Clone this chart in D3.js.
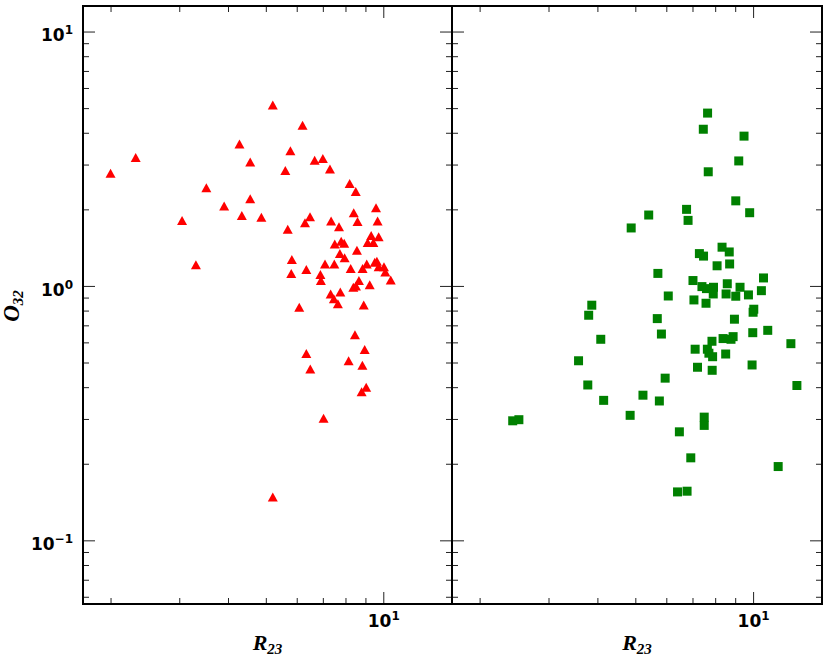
<!DOCTYPE html>
<html>
<head>
<meta charset="utf-8">
<script src="https://cdn.jsdelivr.net/npm/d3@7"></script>
<style>
  body { margin: 0; background: #fff; }
  .chart svg { display: block; }
</style>
</head>
<body>
<div class="chart"></div>
<script>
// left panel (triangles)
const r23Tri = [2.00, 2.32, 3.05, 3.31, 3.52, 3.91, 4.28, 4.34, 4.56, 4.56,
  4.87, 5.21, 5.61, 5.69, 5.78, 5.83, 5.81, 6.09, 6.21, 6.30,
  6.35, 6.49, 6.67, 6.90, 6.92, 7.00, 7.09, 7.30, 7.35, 7.33,
  7.49, 7.51, 7.47, 7.65, 7.70, 7.74, 7.76, 7.80, 7.94, 7.96,
  8.20, 8.25, 8.40, 8.38, 8.50, 8.56, 8.59, 8.51, 8.66, 8.85,
  8.91, 9.07, 9.12, 9.23, 9.31, 9.43, 9.51, 9.58, 9.67, 9.73,
  9.63, 9.73, 10.04, 10.12, 10.45, 8.46, 6.35, 8.96, 8.15, 8.84,
  6.50, 9.04, 8.80, 7.03, 5.21]
const o32Tri = [2.77, 3.20, 1.81, 1.21, 2.43, 2.06, 3.61, 1.89, 3.07, 2.20,
  1.86, 5.14, 2.84, 1.67, 3.40, 1.27, 1.12, 0.824, 4.28, 1.77,
  1.16, 1.87, 3.12, 1.11, 1.05, 3.17, 1.22, 2.88, 1.80, 0.930,
  1.22, 1.46, 0.891, 0.852, 1.71, 1.34, 0.947, 1.50, 1.47, 1.29,
  2.53, 1.17, 1.94, 0.988, 2.35, 1.38, 1.79, 1.00, 1.05, 1.17,
  0.842, 1.22, 1.48, 1.01, 1.58, 1.48, 1.24, 2.03, 1.80, 1.56,
  1.25, 1.19, 1.19, 1.135, 1.056, 0.643, 0.542, 0.562, 0.508, 0.488,
  0.472, 0.400, 0.384, 0.302, 0.148]

// right panel (squares)
const r23Sq = [7.65, 7.46, 9.48, 9.19, 7.68, 9.03, 6.76, 5.41, 9.80, 6.82,
  4.88, 8.33, 8.69, 7.29, 7.47, 8.71, 8.09, 5.71, 10.63, 7.02,
  8.59, 7.40, 7.60, 7.92, 9.26, 10.50, 7.91, 8.53, 9.03, 9.73,
  6.07, 7.06, 7.58, 3.87, 3.80, 5.69, 8.96, 10.04, 10.0, 10.90,
  9.98, 5.83, 4.08, 3.58, 3.78, 4.15, 4.85, 5.23, 5.76, 5.96,
  7.11, 7.21, 7.64, 7.71, 7.85, 7.88, 7.86, 8.38, 8.78, 8.89,
  8.51, 9.94, 12.49, 12.94, 2.43, 2.52, 6.48, 7.50, 7.50, 6.93,
  11.59, 6.41, 6.78]
const o32Sq = [4.78, 4.13, 3.88, 3.10, 2.81, 2.16, 2.00, 1.90, 1.94, 1.81,
  1.69, 1.42, 1.36, 1.34, 1.31, 1.22, 1.20, 1.12, 1.075, 1.05,
  1.02, 0.994, 0.976, 0.988, 0.988, 0.958, 0.930, 0.930, 0.911, 0.922,
  0.913, 0.881, 0.855, 0.840, 0.767, 0.744, 0.740, 0.810, 0.788, 0.669,
  0.655, 0.647, 0.617, 0.508, 0.408, 0.355, 0.310, 0.372, 0.353, 0.434,
  0.564, 0.479, 0.564, 0.544, 0.606, 0.527, 0.466, 0.621, 0.617, 0.632,
  0.540, 0.489, 0.593, 0.406, 0.295, 0.298, 0.267, 0.305, 0.283, 0.211,
  0.195, 0.155, 0.156]

const xDomain = [1.7, 15]
const yDomain = [0.0562, 12.6]
const xLabel = ["R", "23"]
const yLabel = ["O", "32"]

const width = 830
const height = 664
const plotTop = 6, plotBottom = 604
const panels = [
  { x0: 83, x1: 452, xs: r23Tri, ys: o32Tri, marker: "tri", color: "#ff0000", yLabels: true },
  { x0: 452, x1: 822, xs: r23Sq, ys: o32Sq, marker: "sq", color: "#008000", yLabels: false }
]

const svg = d3.select(".chart").append("svg")
  .attr("width", width).attr("height", height)
  .attr("viewBox", `0 0 ${width} ${height}`)

svg.append("rect").attr("width", width).attr("height", height).attr("fill", "#fff")

const yScale = d3.scaleLog().domain(yDomain).range([plotBottom, plotTop])
const isMajor = v => Math.abs(Math.log10(v) - Math.round(Math.log10(v))) < 1e-9

const tickFont = "'DejaVu Sans', sans-serif"

// writes 10^n with a raised exponent into an axis label
const powerLabel = (sel, supSize, supDy) => {
  sel.each(function (d) {
    const t = d3.select(this)
    const e = Math.round(Math.log10(d))
    t.text(null)
    t.append("tspan").text("10")
    t.append("tspan").attr("font-size", supSize).attr("dy", supDy)
      .text(e < 0 ? "\u2212" + Math.abs(e) : e)
  })
}

const styleAxis = g => {
  g.select(".domain").remove()
  g.selectAll(".tick line").attr("stroke", "#222").attr("stroke-width", 1)
}

const triPath = (w, h) => `M0,${-h / 2}L${w / 2},${h / 2}L${-w / 2},${h / 2}Z`

panels.forEach(p => {
  const xScale = d3.scaleLog().domain(xDomain).range([p.x0, p.x1])
  const xTicks = xScale.ticks()
  const yTicks = yScale.ticks()
  const xMaj = xTicks.filter(isMajor), xMin = xTicks.filter(v => !isMajor(v))
  const yMaj = yTicks.filter(isMajor), yMin = yTicks.filter(v => !isMajor(v))

  const g = svg.append("g")

  // minor ticks, all four sides, pointing inwards
  g.append("g").attr("transform", `translate(0,${plotBottom})`)
    .call(d3.axisBottom(xScale).tickValues(xMin).tickSize(-6).tickFormat("")).call(styleAxis)
  g.append("g").attr("transform", `translate(0,${plotTop})`)
    .call(d3.axisTop(xScale).tickValues(xMin).tickSize(-6).tickFormat("")).call(styleAxis)
  g.append("g").attr("transform", `translate(${p.x0},0)`)
    .call(d3.axisLeft(yScale).tickValues(yMin).tickSize(-6).tickFormat("")).call(styleAxis)
  g.append("g").attr("transform", `translate(${p.x1},0)`)
    .call(d3.axisRight(yScale).tickValues(yMin).tickSize(-6).tickFormat("")).call(styleAxis)

  // major ticks
  const xb = g.append("g").attr("transform", `translate(0,${plotBottom})`)
    .call(d3.axisBottom(xScale).tickValues(xMaj).tickSize(-12).tickPadding(10)).call(styleAxis)
  xb.selectAll(".tick text")
    .attr("y", 23).attr("dy", null)
    .attr("font-family", tickFont).attr("font-weight", "bold").attr("font-size", 17).attr("fill", "#000")
    .call(powerLabel, 12, -7)

  g.append("g").attr("transform", `translate(0,${plotTop})`)
    .call(d3.axisTop(xScale).tickValues(xMaj).tickSize(-12).tickFormat("")).call(styleAxis)

  const yl = g.append("g").attr("transform", `translate(${p.x0},0)`)
    .call(d3.axisLeft(yScale).tickValues(yMaj).tickSize(-12).tickPadding(10)
      .tickFormat(p.yLabels ? null : "")).call(styleAxis)
  if (p.yLabels) {
    yl.selectAll(".tick text")
      .attr("dy", "0.54em")
      .attr("font-family", tickFont).attr("font-weight", "bold").attr("font-size", 17).attr("fill", "#000")
      .call(powerLabel, 12, -7)
  }

  g.append("g").attr("transform", `translate(${p.x1},0)`)
    .call(d3.axisRight(yScale).tickValues(yMaj).tickSize(-12).tickFormat("")).call(styleAxis)

  // points
  const pts = d3.zip(p.xs, p.ys)
  const marks = g.append("g").selectAll("path").data(pts).join("path")
    .attr("transform", d => `translate(${xScale(d[0])},${yScale(d[1])})`)
    .attr("fill", p.color)
  if (p.marker === "tri") {
    marks.attr("d", triPath(10, 9))
  } else {
    marks.attr("d", "M-4.5,-4.5H4.5V4.5H-4.5Z")
  }

  // frame
  g.append("rect")
    .attr("x", p.x0).attr("y", plotTop)
    .attr("width", p.x1 - p.x0).attr("height", plotBottom - plotTop)
    .attr("fill", "none").attr("stroke", "#000").attr("stroke-width", 2)

  // x title
  const xt = g.append("text")
    .attr("x", (p.x0 + p.x1) / 2).attr("y", 650)
    .attr("text-anchor", "middle")
    .attr("font-family", "'Liberation Serif', serif")
    .attr("font-style", "italic").attr("font-weight", "bold").attr("font-size", 22)
  xt.append("tspan").text(xLabel[0])
  xt.append("tspan").attr("font-size", 15).attr("dy", 4).text(xLabel[1])
})

// y title
const yt = svg.append("text")
  .attr("transform", "translate(19,306) rotate(-90)")
  .attr("text-anchor", "middle")
  .attr("font-family", "'Liberation Serif', serif")
  .attr("font-style", "italic").attr("font-weight", "bold").attr("font-size", 23)
yt.append("tspan").text(yLabel[0])
yt.append("tspan").attr("font-size", 15).attr("dy", 4).text(yLabel[1])
</script>
</body>
</html>
